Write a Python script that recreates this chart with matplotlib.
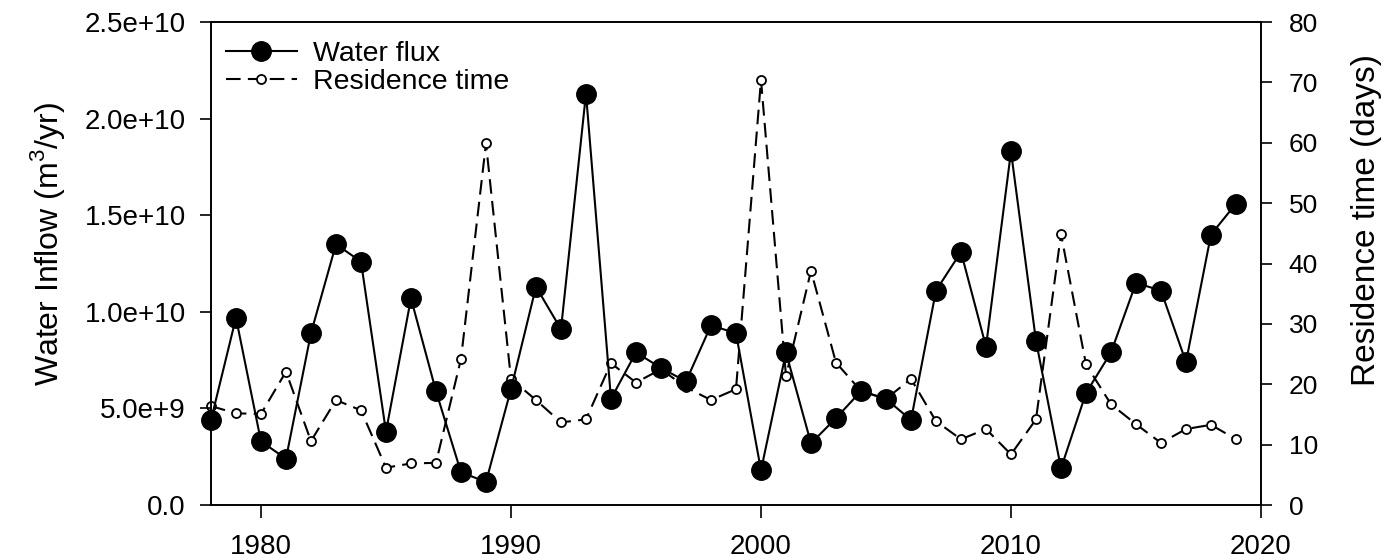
import matplotlib
matplotlib.use('Agg')
import matplotlib.pyplot as plt

plt.rcParams['font.family'] = ['Liberation Sans', 'DejaVu Sans']
plt.rcParams['mathtext.fontset'] = 'custom'
plt.rcParams['mathtext.rm'] = 'Liberation Sans'

years = list(range(1978, 2020))
# water inflow, m3/yr
water_flux = [4.4e9, 9.7e9, 3.3e9, 2.4e9, 8.9e9, 1.35e10, 1.26e10, 3.8e9, 1.07e10, 5.9e9,
              1.7e9, 1.2e9, 6.0e9, 1.13e10, 9.1e9, 2.13e10, 5.5e9, 7.9e9, 7.1e9, 6.4e9,
              9.3e9, 8.9e9, 1.8e9, 7.9e9, 3.2e9, 4.5e9, 5.9e9, 5.5e9, 4.4e9, 1.11e10,
              1.31e10, 8.2e9, 1.83e10, 8.5e9, 1.9e9, 5.8e9, 7.9e9, 1.15e10, 1.11e10, 7.4e9,
              1.40e10, 1.56e10]
# residence time, days
residence = [16.4, 15.2, 15.1, 22.1, 10.6, 17.4, 15.7, 6.2, 6.9, 7.0,
             24.2, 59.9, 20.9, 17.4, 13.7, 14.2, 23.5, 20.3, 22.5, 19.5,
             17.4, 19.2, 70.4, 21.4, 38.8, 23.6, 18.9, 17.6, 20.9, 13.9,
             10.9, 12.6, 8.4, 14.2, 44.9, 23.3, 16.7, 13.4, 10.3, 12.6,
             13.3, 10.9]

x_ticks = [1980, 1990, 2000, 2010, 2020]
left_ticks = [0, 5e9, 1e10, 1.5e10, 2e10, 2.5e10]
left_labels = ['0.0', '5.0e+9', '1.0e+10', '1.5e+10', '2.0e+10', '2.5e+10']
right_ticks = [0, 10, 20, 30, 40, 50, 60, 70, 80]

fig = plt.figure(figsize=(13.88, 5.6), dpi=100)
ax = fig.add_axes([0.152, 0.098, 0.7565, 0.8627])
ax2 = ax.twinx()
# water flux drawn on top of residence time
ax.set_zorder(ax2.get_zorder() + 1)
ax.patch.set_visible(False)

l1, = ax.plot(years, water_flux, color='black', lw=1.5, marker='o', ms=14,
              mfc='black', mec='black', clip_on=False, label='Water flux')
l2, = ax2.plot(years, residence, color='black', lw=1.5, ls=(0, (7, 3.5)), marker='o',
               ms=6.5, mfc='white', mec='black', mew=1.3, clip_on=False,
               label='Residence time')

ax.set_xlim(1978, 2020)
ax.set_ylim(0, 2.5e10)
ax2.set_ylim(0, 80)

ax.set_xticks(x_ticks)
ax.set_yticks(left_ticks)
ax.set_yticklabels(left_labels)
ax2.set_yticks(right_ticks)

for a in (ax, ax2):
    for s in a.spines.values():
        s.set_linewidth(1.2)
ax.tick_params(axis='y', direction='out', length=8, width=1.2, pad=10, labelsize=20)
ax.tick_params(axis='x', direction='out', length=9, width=1.2, pad=12, labelsize=20)
ax2.tick_params(axis='y', direction='out', length=8, width=1.2, pad=12, labelsize=19)

ax.set_ylabel(r'Water Inflow (m$^{3}$/yr)', fontsize=23, va='center')
ax.yaxis.set_label_coords(-0.156, 0.54)
ax2.set_ylabel('Residence time (days)', fontsize=24, va='center', rotation=90)
ax2.yaxis.set_label_coords(1.1, 0.59)

ax.legend([l1, l2], ['Water flux', 'Residence time'], loc='upper left',
          bbox_to_anchor=(0.014, 0.96), frameon=False, fontsize=20.5,
          handlelength=2.5, handletextpad=0.55, labelspacing=0.05,
          borderpad=0, borderaxespad=0)

fig.savefig('out.png', dpi=100)
